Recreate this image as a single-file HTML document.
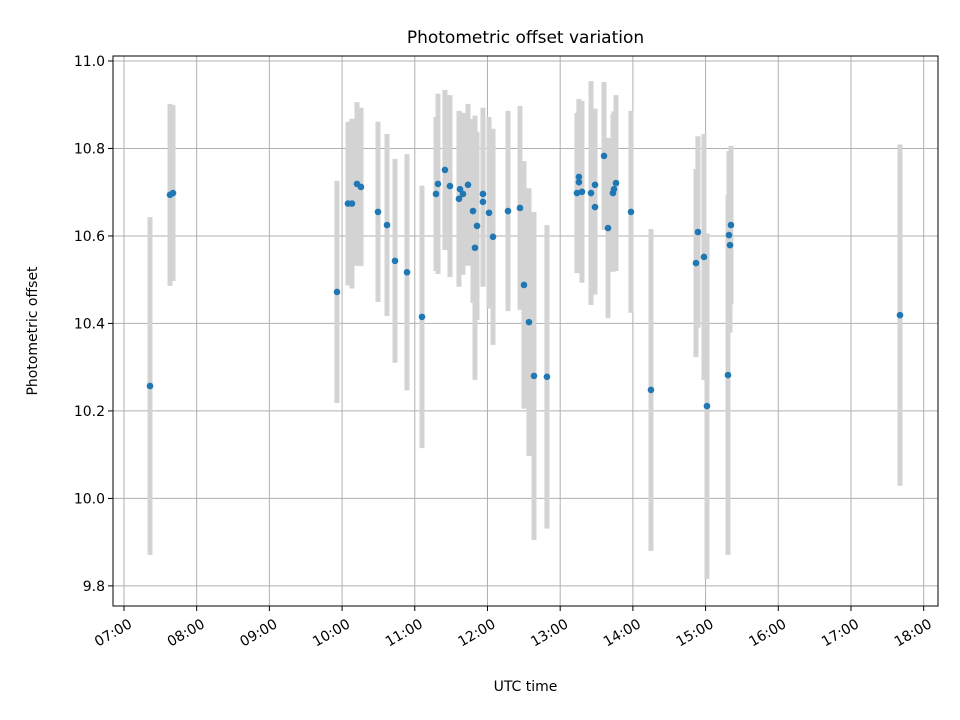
<!DOCTYPE html>
<html><head><meta charset="utf-8"><style>body{margin:0;background:#fff}svg{display:block;font-family:"DejaVu Sans","Liberation Sans",sans-serif}</style></head>
<body>
<svg id="chart" width="960" height="720"></svg>
<script>
const times=[7.358,7.633,7.674,9.930,10.081,10.136,10.205,10.260,10.494,10.618,10.728,10.893,11.099,11.292,11.319,11.415,11.484,11.608,11.622,11.663,11.732,11.801,11.828,11.856,11.938,11.938,12.021,12.076,12.282,12.447,12.502,12.571,12.640,12.818,13.258,13.258,13.231,13.300,13.424,13.479,13.479,13.603,13.658,13.768,13.740,13.726,13.974,14.249,14.868,14.895,14.978,15.019,15.308,15.349,15.322,15.336,17.674];
const offsets=[10.257,10.694,10.698,10.472,10.674,10.674,10.719,10.712,10.655,10.625,10.543,10.517,10.415,10.696,10.719,10.751,10.714,10.685,10.707,10.696,10.717,10.657,10.573,10.623,10.696,10.678,10.653,10.598,10.657,10.664,10.488,10.403,10.280,10.278,10.735,10.723,10.698,10.701,10.698,10.717,10.666,10.783,10.618,10.721,10.707,10.698,10.655,10.248,10.538,10.609,10.552,10.211,10.282,10.625,10.602,10.579,10.419];
const errors=[0.386,0.208,0.201,0.254,0.187,0.194,0.187,0.181,0.206,0.208,0.233,0.270,0.300,0.176,0.206,0.183,0.208,0.201,0.176,0.185,0.185,0.210,0.302,0.215,0.197,0.194,0.219,0.247,0.229,0.233,0.283,0.306,0.375,0.347,0.178,0.180,0.183,0.208,0.256,0.174,0.200,0.169,0.206,0.201,0.178,0.180,0.231,0.368,0.215,0.219,0.281,0.395,0.411,0.181,0.192,0.200,0.390];
const xTicks=[7,8,9,10,11,12,13,14,15,16,17,18];
const xTickLabels=["07:00","08:00","09:00","10:00","11:00","12:00","13:00","14:00","15:00","16:00","17:00","18:00"];
const yTicks=[9.8,10.0,10.2,10.4,10.6,10.8,11.0];
const yTickLabels=["9.8","10.0","10.2","10.4","10.6","10.8","11.0"];

const L=113,R=938,T=56,B=606;
const xmin=6.849,xmax=18.197,ymin=9.754,ymax=11.0114;
const X=v=>L+(v-xmin)/(xmax-xmin)*(R-L);
const Y=v=>B-(v-ymin)/(ymax-ymin)*(B-T);
const svg=document.getElementById('chart');
const NS='http://www.w3.org/2000/svg';
function mk(tag,attrs,parent){const e=document.createElementNS(NS,tag);for(const k in attrs)e.setAttribute(k,attrs[k]);(parent||svg).appendChild(e);return e;}

const grid=mk('g',{});


xTicks.forEach((t,i)=>{
  const l=mk('line',{x1:X(t),x2:X(t),y1:T,y2:B,stroke:'#b0b0b0','stroke-width':1},grid);
  
  
  const tk=mk('line',{x1:X(t),x2:X(t),y1:B,y2:B+5,stroke:'#000','stroke-width':1});
  
  
  const ax=X(t)+4, ay=B+12;
  const tx=mk('text',{x:ax,y:ay+10,'font-size':14,'text-anchor':'end',transform:`rotate(-30 ${ax} ${ay})`});
  tx.textContent=xTickLabels[i];
  
  
});
yTicks.forEach((t,i)=>{
  const l=mk('line',{x1:L,x2:R,y1:Y(t),y2:Y(t),stroke:'#b0b0b0','stroke-width':1},grid);
  
  
  const tk=mk('line',{x1:L-5,x2:L,y1:Y(t),y2:Y(t),stroke:'#000','stroke-width':1});
  
  
  const tx=mk('text',{x:L-8,y:Y(t)+5,'font-size':14,'text-anchor':'end'});
  tx.textContent=yTickLabels[i];
  
  
});
const eb=mk('g',{});


times.forEach((t,i)=>{
  const b=mk('line',{x1:X(t),x2:X(t),y1:Y(offsets[i]+errors[i]),y2:Y(offsets[i]-errors[i]),stroke:'#d3d3d3','stroke-width':5},eb);
  
  
});
const pts=mk('g',{});


times.forEach((t,i)=>{
  const c=mk('circle',{cx:X(t),cy:Y(offsets[i]),r:3.3,fill:'#1f77b4'},pts);
  
  
});
const fr=mk('rect',{x:L,y:T,width:R-L,height:B-T,fill:'none',stroke:'#000','stroke-width':1});


const ti=mk('text',{x:(L+R)/2,y:43,'font-size':17,'text-anchor':'middle'});
ti.textContent='Photometric offset variation';


const xl=mk('text',{x:(L+R)/2,y:691,'font-size':14,'text-anchor':'middle'});
xl.textContent='UTC time';


const yl=mk('text',{x:37,y:331,'font-size':14,'text-anchor':'middle',transform:'rotate(-90 37 331)'});
yl.textContent='Photometric offset';


</script>
</body></html>
